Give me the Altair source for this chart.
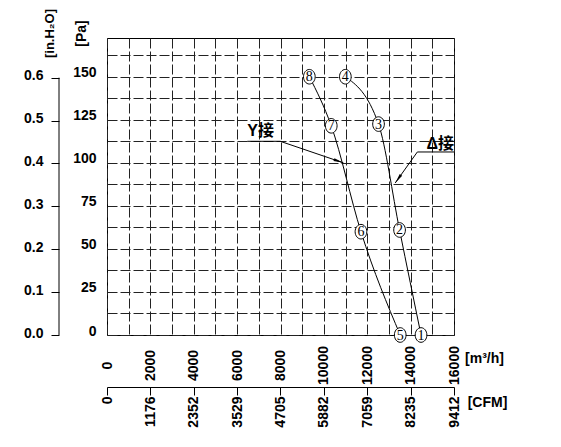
import altair as alt
import pandas as pd

# ---------------- data ----------------
# Delta connection curve, points 1-4
delta_ids = ["1", "2", "3", "4"]
delta_flow = [14480, 13490, 12520, 10990]     # m3/h
delta_pa = [0, 61, 122.5, 150]                # Pa

# Y connection curve, points 5-8
y_ids = ["5", "6", "7", "8"]
y_flow = [13520, 11710, 10340, 9330]          # m3/h
y_pa = [0, 60, 121.5, 150]                    # Pa

# axis ticks
flow_ticks = [0, 1000, 2000, 3000, 4000, 5000, 6000, 7000, 8000,
              9000, 10000, 11000, 12000, 13000, 14000, 15000, 16000]
pa_ticks = [0, 12.5, 25, 37.5, 50, 62.5, 75, 87.5, 100,
            112.5, 125, 137.5, 150, 162.5]
cfm_ticks = [0, 1176, 2352, 3529, 4705, 5882, 7059, 8235, 9412]
inh2o_ticks = [0.0, 0.1, 0.2, 0.3, 0.4, 0.5, 0.6]

# annotations: label text and leader polyline (label -> arrow tip), data units
note_y_text = "Y接"
note_y_flow = [6470, 7990, 10900]
note_y_pa = [112.5, 112.5, 100]
note_d_text = "Δ接"
note_d_flow = [16000, 14310, 13290]
note_d_pa = [106.3, 106.3, 88.3]

FLOW_MAX = 16000
PA_MAX = 172.5
CFM_MAX = 9412
INH2O_MAX = PA_MAX / 249.09

# ---------------- frames ----------------
curves = pd.DataFrame({
    "series": ["delta"] * 4 + ["y"] * 4,
    "id": delta_ids + y_ids,
    "flow": delta_flow + y_flow,
    "pa": delta_pa + y_pa,
})
leaders = pd.DataFrame({
    "note": ["y"] * 3 + ["d"] * 3,
    "idx": [0, 1, 2, 0, 1, 2],
    "flow": note_y_flow + note_d_flow,
    "pa": note_y_pa + note_d_pa,
})
tips = pd.DataFrame({
    "flow": [note_y_flow[-1], note_d_flow[-1]],
    "pa": [note_y_pa[-1], note_d_pa[-1]],
    "ang": [19, 125],
})
note_y_df = pd.DataFrame({"flow": [note_y_flow[0]], "pa": [115.5], "t": [note_y_text]})
note_d_df = pd.DataFrame({"flow": [note_d_flow[0]], "pa": [108.0], "t": [note_d_text]})
inh2o_df = pd.DataFrame({"lo": [inh2o_ticks[0]], "hi": [inh2o_ticks[-1]]})
cfm_df = pd.DataFrame({"cfm": cfm_ticks})

FONT = "Liberation Sans, Arial, sans-serif"
NOTE_FONT = "Liberation Sans, Noto Sans CJK SC, sans-serif"
SERIF = "Liberation Serif, Times New Roman, serif"
DASH = [10, 3]
GRID_C = "#222222"

common_axis = dict(labelFont=FONT, labelFontSize=14, labelFontWeight="bold",
                   labelColor="black", titleFont=FONT, titleFontSize=14,
                   titleFontWeight="bold", titleColor="black",
                   labelFlush=False, labelOverlap=False)

x_main = alt.X(
    "flow:Q",
    scale=alt.Scale(domain=[0, FLOW_MAX], nice=False, zero=False),
    axis=alt.Axis(
        orient="bottom", values=flow_ticks, tickCount=len(flow_ticks), format="d",
        labelExpr="datum.value % 2000 == 0 ? datum.label : ''",
        labelAngle=270, labelAlign="center", labelBaseline="middle",
        labelPadding=30, ticks=False, tickSize=0, domain=False,
        grid=True, gridDash=DASH, gridColor=GRID_C, gridWidth=1, gridOpacity=1,
        title="[m³/h]", titleAngle=0, titleX=377, titleY=23.5,
        titleAlign="center", titleBaseline="middle", **common_axis),
)
y_main = alt.Y(
    "pa:Q",
    scale=alt.Scale(domain=[0, PA_MAX], nice=False, zero=False),
    axis=alt.Axis(
        orient="left", values=pa_ticks, tickCount=len(pa_ticks),
        labelExpr="datum.value % 25 == 0 ? format(datum.value, 'd') : ''",
        ticks=False, tickSize=0, domain=False, labelPadding=11, labelOffset=-4,
        grid=True, gridDash=DASH, gridColor=GRID_C, gridWidth=1, gridOpacity=1,
        title="[Pa]", titleAngle=270, titleX=-26, titleY=-5,
        titleAlign="center", titleBaseline="middle", **common_axis),
)

curve_layer = alt.Chart(curves).mark_line(
    interpolate="monotone", color="black", strokeWidth=1
).encode(x=x_main, y=y_main, detail="series:N")

ELLIPSE = "M-0.8,0A0.8,1,0,1,1,0.8,0A0.8,1,0,1,1,-0.8,0Z"
circle_layer = alt.Chart(curves).mark_point(
    shape=ELLIPSE, size=213, filled=True, fill="white", stroke="black",
    strokeWidth=1, opacity=1
).encode(x="flow:Q", y="pa:Q")

digit_layer = alt.Chart(curves).mark_text(
    font=SERIF, fontSize=14, color="black", align="center", baseline="middle", dy=0.5
).encode(x="flow:Q", y="pa:Q", text="id:N")

leader_layer = alt.Chart(leaders).mark_line(color="black", strokeWidth=1).encode(
    x="flow:Q", y="pa:Q", detail="note:N", order="idx:Q")

ARROW = "M0,0L-2,-0.3L-2,0.3Z"
tip_layer = alt.Chart(tips).mark_point(
    shape=ARROW, size=100, filled=True, color="black", opacity=1
).encode(x="flow:Q", y="pa:Q", angle=alt.Angle("ang:Q", scale=None))

note_y_layer = alt.Chart(note_y_df).mark_text(
    font=NOTE_FONT, fontSize=16, fontWeight="bold", color="black",
    align="left", baseline="alphabetic"
).encode(x="flow:Q", y="pa:Q", text="t:N")

note_d_layer = alt.Chart(note_d_df).mark_text(
    font=NOTE_FONT, fontSize=16, fontWeight="bold", color="black",
    align="right", baseline="alphabetic"
).encode(x="flow:Q", y="pa:Q", text="t:N")

main = alt.layer(curve_layer, leader_layer, tip_layer, circle_layer,
                 digit_layer, note_y_layer, note_d_layer)

inh2o_axis = dict(common_axis)
inh2o_axis["titleFontSize"] = 13
inh2o_layer = alt.Chart(inh2o_df).mark_rule(color="black", strokeWidth=1).encode(
    x=alt.value(-48),
    y=alt.Y("lo:Q", scale=alt.Scale(domain=[0, INH2O_MAX], nice=False, zero=False),
            axis=alt.Axis(orient="left", offset=48, values=inh2o_ticks,
                          tickCount=len(inh2o_ticks), format=".1f",
                          domain=False, ticks=True, tickSize=8, tickColor="black",
                          tickWidth=1, grid=False, labelPadding=8, labelOffset=-2,
                          title="[in.H₂O]", titleAngle=270, titleX=-10, titleY=-5,
                          titleAlign="center", titleBaseline="middle", **inh2o_axis)),
    y2="hi:Q",
)

cfm_layer = alt.Chart(cfm_df).mark_point(opacity=0).encode(
    x=alt.X("cfm:Q", scale=alt.Scale(domain=[0, CFM_MAX], nice=False, zero=False),
            axis=alt.Axis(orient="bottom", offset=52, values=cfm_ticks,
                          tickCount=len(cfm_ticks), format="d",
                          domain=True, domainColor="black", domainWidth=1,
                          ticks=True, tickSize=8, tickColor="black", tickWidth=1,
                          grid=False, labelAngle=270, labelAlign="right",
                          labelBaseline="middle", labelPadding=1,
                          title="[CFM]", titleAngle=0, titleX=380, titleY=15.5,
                          titleAlign="center", titleBaseline="middle", **common_axis)),
)

chart = alt.layer(main, inh2o_layer, cfm_layer).resolve_scale(
    x="independent", y="independent"
).properties(
    width=347, height=297,
    autosize=alt.AutoSizeParams(type="none"),
    padding={"left": 99, "top": 30, "right": 60, "bottom": 100},
    background="white",
).configure_view(stroke="black", strokeWidth=1)

chart.save("out.html", embed_options={"renderer": "svg", "actions": False})
